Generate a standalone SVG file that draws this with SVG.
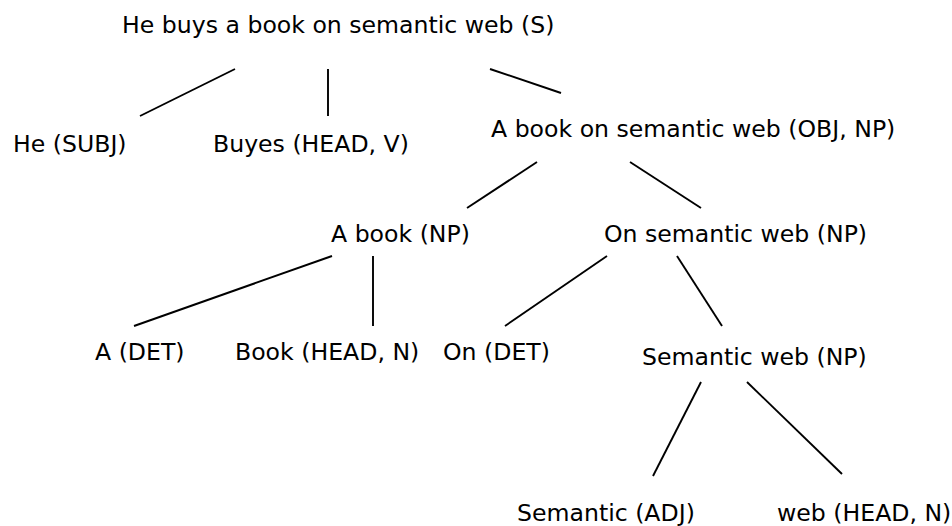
<svg xmlns="http://www.w3.org/2000/svg" width="952" height="526" viewBox="0 0 952 526">
  <style>
    .lbl { font-family: "DejaVu Sans", Verdana, sans-serif; font-size: 23.6px; fill: #000; }
    .edge { stroke: #000; stroke-width: 1.9; fill: none; }
  </style>
  <rect width="952" height="526" fill="#fff"/>

  <g id="connectors">
    <line class="edge" x1="235" y1="69" x2="140" y2="116"/>
    <line class="edge" x1="328" y1="69" x2="328" y2="116"/>
    <line class="edge" x1="490" y1="69" x2="561" y2="93"/>
    <line class="edge" x1="537" y1="162" x2="467" y2="208"/>
    <line class="edge" x1="630" y1="162" x2="701" y2="208"/>
    <line class="edge" x1="332" y1="256" x2="134" y2="326"/>
    <line class="edge" x1="373" y1="256" x2="373" y2="326"/>
    <line class="edge" x1="607" y1="256" x2="505" y2="326"/>
    <line class="edge" x1="677" y1="256" x2="722" y2="326"/>
    <line class="edge" x1="701" y1="382" x2="653" y2="476"/>
    <line class="edge" x1="747" y1="382" x2="842" y2="474"/>
  </g>

  <g id="n-s"><text class="lbl" x="122" y="33">He buys a book on semantic web (S)</text></g>
  <g id="n-subj"><text class="lbl" x="13" y="152">He (SUBJ)</text></g>
  <g id="n-verb"><text class="lbl" x="213" y="152">Buyes (HEAD, V)</text></g>
  <g id="n-obj"><text class="lbl" x="491" y="137">A book on semantic web (OBJ, NP)</text></g>
  <g id="n-abook"><text class="lbl" x="331" y="242">A book (NP)</text></g>
  <g id="n-onsem"><text class="lbl" x="604" y="242">On semantic web (NP)</text></g>
  <g id="n-adet"><text class="lbl" x="95" y="360">A (DET)</text></g>
  <g id="n-book"><text class="lbl" x="235" y="360">Book (HEAD, N)</text></g>
  <g id="n-ondet"><text class="lbl" x="443" y="360">On (DET)</text></g>
  <g id="n-semweb"><text class="lbl" x="642" y="365">Semantic web (NP)</text></g>
  <g id="n-adj"><text class="lbl" x="517" y="521">Semantic (ADJ)</text></g>
  <g id="n-web"><text class="lbl" x="777" y="521">web (HEAD, N)</text></g>
</svg>
